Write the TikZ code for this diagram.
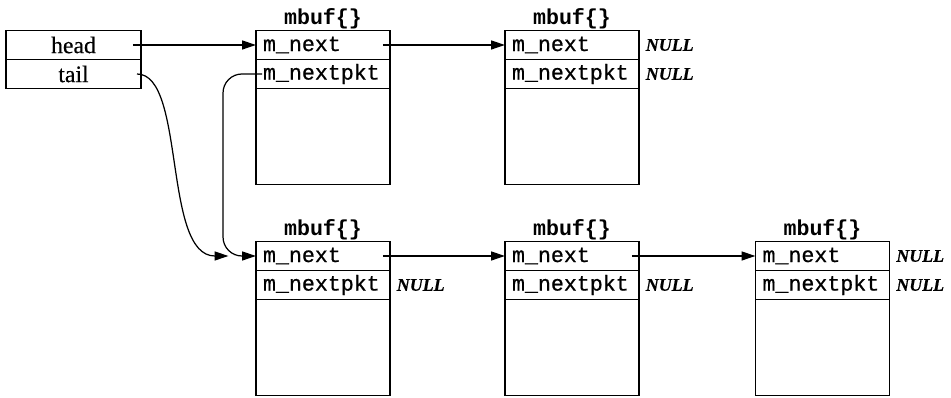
\documentclass[tikz,border=0pt]{standalone}
\usepackage{fontspec}
\setmainfont{Liberation Serif}[FakeBold=0.4]
\setmonofont{Liberation Mono}[FakeBold=0.8]
\newfontfamily\titlefont{Liberation Mono Bold}
\usetikzlibrary{positioning,arrows.meta}

\tikzset{
  cell/.style={draw, line width=0.85pt, outer sep=0pt, text width=2.4cm, inner xsep=0.14cm, inner ysep=0pt,
    minimum height=0.58cm, align=left, font=\fontsize{12.3}{14}\selectfont\ttfamily},
  hcell/.style={cell, text width=2.42cm, align=center, font=\fontsize{13.5}{15}\selectfont},
  body/.style={draw, line width=0.85pt, outer sep=0pt, minimum width=2.68cm, minimum height=1.92cm, inner sep=0pt},
  title/.style={inner xsep=0.1cm, inner ysep=0.03cm, font=\fontsize{12.3}{14}\selectfont\titlefont},
  nul/.style={inner xsep=0.13cm, font=\fontsize{10.2}{12}\selectfont\bfseries\itshape},
  arr/.style={-{Triangle[length=2.8mm,width=1.8mm]}, line width=0.7pt}
}

\begin{document}
\begin{tikzpicture}[x=0.02cm, y=-0.02cm]
    \useasboundingbox (0,0) rectangle (951,398);

    % head / tail
    \node[hcell] (head) at (73.5,45) {head};
    \node[hcell, below=0pt of head] (tail) {tail};

    % mbuf in alto
    \node[cell] (n1) at (323,45) {m\_next};
    \node[cell, below=0pt of n1] (p1) {m\_nextpkt};
    \node[body, below=0pt of p1] (d1) {};
    \node[title, above=0pt of n1] (t1) {mbuf\{\}};

    \node[cell] (n2) at (572,45) {m\_next};
    \node[cell, below=0pt of n2] (p2) {m\_nextpkt};
    \node[body, below=0pt of p2] (d2) {};
    \node[title, above=0pt of n2] (t2) {mbuf\{\}};
    \node[nul, right=0pt of n2] (u1) {NULL};
    \node[nul, right=0pt of p2] (u2) {NULL};

    % mbuf in basso
    \node[cell] (n3) at (323,256) {m\_next};
    \node[cell, below=0pt of n3] (p3) {m\_nextpkt};
    \node[body, below=0pt of p3] (d3) {};
    \node[title, above=0pt of n3] (t3) {mbuf\{\}};
    \node[nul, right=0pt of p3] (u3) {NULL};

    \node[cell] (n4) at (572,256) {m\_next};
    \node[cell, below=0pt of n4] (p4) {m\_nextpkt};
    \node[body, below=0pt of p4] (d4) {};
    \node[title, above=0pt of n4] (t4) {mbuf\{\}};
    \node[nul, right=0pt of p4] (u4) {NULL};

    \node[cell] (n5) at (822.5,256) {m\_next};
    \node[cell, below=0pt of n5] (p5) {m\_nextpkt};
    \node[body, below=0pt of p5] (d5) {};
    \node[title, above=0pt of n5] (t5) {mbuf\{\}};
    \node[nul, right=0pt of n5] (u5) {NULL};
    \node[nul, right=0pt of p5] (u6) {NULL};

    % Archi
    \coordinate (tailend) at ([xshift=-0.55cm]n3.west);
    \draw[arr] ([xshift=-0.16cm]head.east) -- (n1.west); % head -> primo mbuf
    \draw[arr] ([xshift=-0.08cm]tail.east) .. controls +(0.98cm,0) and +(-1.32cm,0) .. (tailend); % tail -> ultimo pacchetto
    \draw[arr] ([xshift=-0.14cm]n1.east) -- (n2.west);
    \draw[arr, rounded corners=0.38cm] ([xshift=0.12cm]p1.west) -| ([xshift=-0.66cm]n3.west) -- (n3.west); % pacchetto successivo
    \draw[arr] ([xshift=-0.14cm]n3.east) -- (n4.west);
    \draw[arr] ([xshift=-0.14cm]n4.east) -- (n5.west);

\end{tikzpicture}
\end{document}
